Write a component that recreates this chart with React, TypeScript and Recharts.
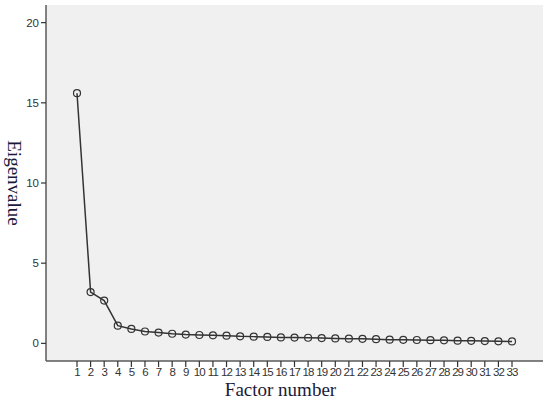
import React from 'react';
import { ComposedChart, Line, XAxis, YAxis, CartesianGrid } from 'recharts';

const factors = [1,2,3,4,5,6,7,8,9,10,11,12,13,14,15,16,17,18,19,20,21,22,23,24,25,26,27,28,29,30,31,32,33];
const eigenvalues = [15.6,3.2,2.67,1.1,0.9,0.74,0.67,0.6,0.55,0.52,0.5,0.48,0.44,0.42,0.4,0.37,0.36,0.35,0.33,0.31,0.29,0.28,0.26,0.23,0.22,0.21,0.2,0.19,0.17,0.16,0.14,0.13,0.12];
const yTicks = [0,5,10,15,20];

const data = factors.map((f, i) => ({ f, v: eigenvalues[i] }));

const yTickStyle = { fontSize: 11.5, fill: '#333', fontFamily: '"Liberation Sans", Arial, sans-serif' };
const xTickStyle = { fontSize: 11.5, fill: '#333', letterSpacing: -0.9, fontFamily: '"Liberation Sans", Arial, sans-serif' };

export default function App() {
  return (
    <div style={{ position: 'absolute', left: 0, top: 0, width: 550, height: 401, background: '#fff' }}>
      <ComposedChart width={550} height={401} data={data} margin={{ top: 5, right: 7, left: 0, bottom: 0 }}>
        <CartesianGrid horizontal={false} vertical={false} fill="#f0f0f0" />
        <XAxis
          dataKey="f"
          type="number"
          domain={[1, 33]}
          ticks={factors}
          interval={0}
          padding={{ left: 31, right: 31 }}
          height={40}
          tick={xTickStyle}
          tickSize={6}
          tickMargin={1}
          axisLine={{ stroke: '#5a5a5a', strokeWidth: 1.5 }}
          tickLine={{ stroke: '#333', strokeWidth: 1.2 }}
          label={{
            content: (props: any) => {
              const vb = props.viewBox;
              return (
                <text x={vb.x + vb.width / 2 - 14} y={396} textAnchor="middle" fontSize={19} fill="#1a1a3a" fontFamily='"Liberation Serif", "Times New Roman", serif'>
                  Factor number
                </text>
              );
            },
          }}
        />
        <XAxis xAxisId="top" orientation="top" dataKey="f" type="number" domain={[1, 33]} height={0} tick={false} tickLine={false} axisLine={{ stroke: '#5a5a5a', strokeWidth: 1.5 }} />
        <YAxis
          type="number"
          domain={[-1.1, 21.1]}
          ticks={yTicks}
          allowDataOverflow
          width={46}
          tick={yTickStyle}
          tickSize={5}
          tickMargin={2}
          axisLine={{ stroke: '#5a5a5a', strokeWidth: 1.5 }}
          tickLine={{ stroke: '#333', strokeWidth: 1.2 }}
          label={{
            content: (props: any) => {
              const vb = props.viewBox;
              const cy = vb.y + vb.height / 2;
              return (
                <text x={14} y={cy} transform={`rotate(90 14 ${cy})`} textAnchor="middle" dominantBaseline="central" fontSize={19} fill="#1a1a3a" fontFamily='"Liberation Serif", "Times New Roman", serif'>
                  Eigenvalue
                </text>
              );
            },
          }}
        />
        <YAxis yAxisId="right" orientation="right" type="number" domain={[-1.1, 21.1]} width={0} tick={false} tickLine={false} axisLine={{ stroke: '#5a5a5a', strokeWidth: 1.5 }} />
        <Line
          dataKey="v"
          type="linear"
          stroke="#333"
          strokeWidth={1.5}
          dot={{ r: 3.5, stroke: '#333', strokeWidth: 1.2, fill: 'none' }}
          activeDot={false}
          isAnimationActive={false}
        />
      </ComposedChart>
    </div>
  );
}
